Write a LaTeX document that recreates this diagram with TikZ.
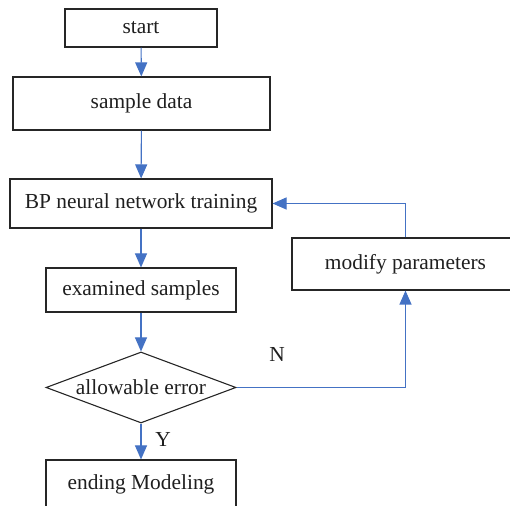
\documentclass[tikz,border=0pt]{standalone}
\usepackage{fontspec}
\setmainfont{Liberation Serif}
\usepackage{xcolor}
\usetikzlibrary{shapes.geometric,arrows.meta}
\definecolor{flowblue}{RGB}{68,114,196}

\begin{document}
\begin{tikzpicture}[x=0.5pt,y=-0.5pt,
        txt/.style={font=\fontsize{10.7}{13}\selectfont, text=black!88},
        box/.style={txt, draw=black!85, line width=0.55pt, inner sep=0pt},
        flow/.style={draw=flowblue, line width=0.55pt, -{Triangle[width=6pt,length=7pt]}}]
                    \useasboundingbox (0,0) rectangle (510,506);
                    \clip (0,0) rectangle (510,506);

                    \node[box, minimum width=76pt, minimum height=19pt] (start) at (141,28) {start};
                    \node[box, minimum width=128.5pt, minimum height=26.5pt] (sample) at (141.5,103.5) {sample data};
                    \node[box, minimum width=131pt, minimum height=24.5pt] (train) at (141,203.5) {BP neural network training};
                    \node[box, minimum width=95pt, minimum height=22pt] (exam) at (141,290) {examined samples};
                    \node[box, diamond, aspect=2.7, minimum width=95pt, minimum height=35.5pt] (check) at (141,387.5) {allowable error};
                    \node[box, minimum width=95pt, minimum height=24pt] (finish) at (141,484) {ending Modeling};
                    \node[box, minimum width=113.5pt, minimum height=26pt] (modify) at (405.5,264) {modify parameters};

                    \node[txt] (no) at (277,355) {N};
                    \node[txt] (yes) at (163,440) {Y};

                    \draw[flow] (start) -- (sample);
                    \draw[flow] (sample) -- (train);
                    \draw[flow] (train) -- (exam);
                    \draw[flow] (exam) -- (check);
                    \draw[flow] (check) -- (finish);
                    \draw[flow] (check.east) -| (modify.south);
                    \draw[flow] (modify.north) |- (train.east);
                \end{tikzpicture}
\end{document}
